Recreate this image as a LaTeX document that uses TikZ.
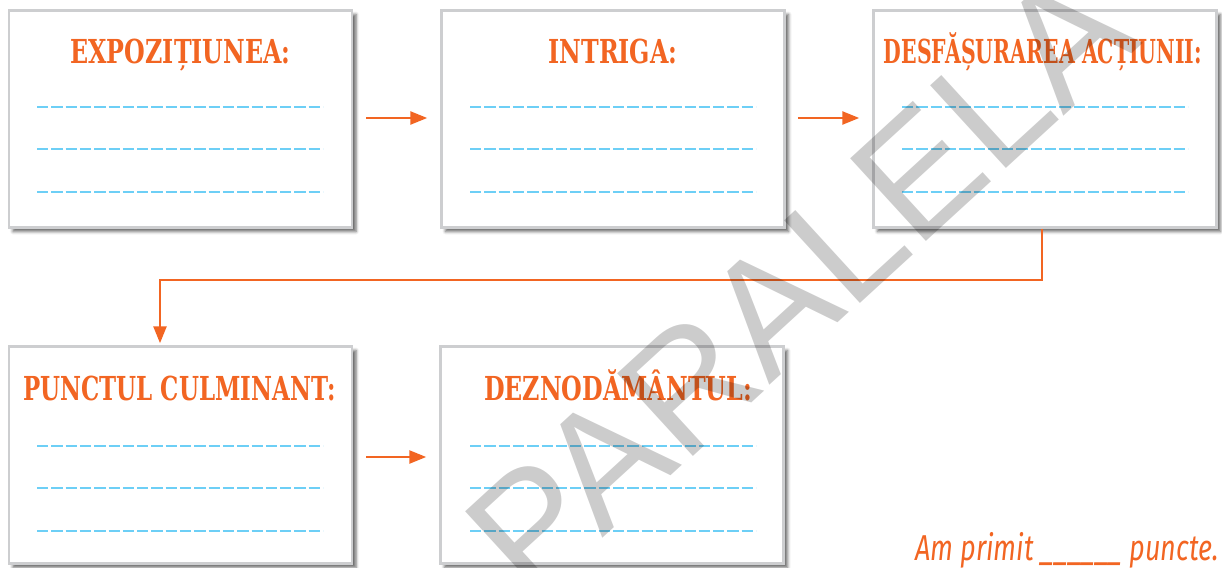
\documentclass[tikz,border=0pt]{standalone}
\usepackage{fontspec}
\usetikzlibrary{arrows.meta,shadows.blur,calc}
\newfontfamily\headfont[FakeStretch=0.72]{DejaVu Serif}
\newfontfamily\notefont[FakeStretch=0.75]{Fira Sans}
\newfontfamily\wmfont{Liberation Sans}
\definecolor{orng}{RGB}{242,101,34}
\definecolor{lineblue}{RGB}{109,207,246}
\definecolor{cardgray}{RGB}{205,206,208}
\begin{document}
\begin{tikzpicture}[x=1pt,y=-1pt,
  card/.style={draw=cardgray, line width=2.5pt, fill=white, minimum width=343pt,
    minimum height=217pt, inner sep=0pt,
    blur shadow={shadow xshift=4pt, shadow yshift=-4pt, shadow blur radius=3pt, shadow opacity=60}},
  head/.style={anchor=base, inner sep=0pt, text=orng, font=\headfont\bfseries\fontsize{33}{36}\selectfont},
  wline/.style={draw=lineblue, line width=2.5pt, dash pattern=on 11.3pt off 3pt},
  conn/.style={draw=orng, line width=2.5pt},
  arr/.style={conn, -{Triangle[length=17pt,width=13pt]}},
  note/.style={anchor=base west, inner sep=0pt, text=orng, font=\notefont\itshape\fontsize{36}{40}\selectfont},
  wm/.style={rotate=42.5, inner sep=0pt, text=black, text opacity=0.2, font=\wmfont\fontsize{163}{170}\selectfont},
]
\useasboundingbox (0,0) rectangle (1222,567);
% cards
\node[card] (b1) at (180.5,119) {};
\node[card] (b2) at (613,119) {};
\node[card] (b3) at (1045,119) {};
\node[card] (b4) at (180.5,455) {};
\node[card] (b5) at (612,455) {};
% headings
\node[head] (h1) at ($(b1.north)+(0,54)$) {EXPOZIȚIUNEA:};
\node[head] (h2) at ($(b2.north)+(0,54)$) {INTRIGA:};
\node[head] (h3) at ($(b3.north)+(-2,54)$) {\scalebox{0.86}[1]{DESFĂȘURAREA ACȚIUNII:}};
\node[head] (h4) at ($(b4.north)+(-1,55)$) {\scalebox{0.965}[1]{PUNCTUL CULMINANT:}};
\node[head] (h5) at ($(b5.north)+(6,55)$) {DEZNODĂMÂNTUL:};
% writing lines
\foreach \xx in {37,470,902}{
  \foreach \yy in {107,149,192}{
    \draw[wline] (\xx,\yy) -- ++(286,0);
  }
}
\foreach \xx in {37,470}{
  \foreach \yy in {446,488,531}{
    \draw[wline] (\xx,\yy) -- ++(286,0);
  }
}
% connectors
\draw[arr] ([xshift=13pt,yshift=1pt]b1.east) -- ([xshift=-13pt,yshift=1pt]b2.west);
\draw[arr] ([xshift=12pt,yshift=1pt]b2.east) -- ([xshift=-13pt,yshift=1pt]b3.west);
\draw[arr] ([xshift=13pt,yshift=-2pt]b4.east) -- ([xshift=-13pt,yshift=-2pt]b5.west);
\coordinate (bend) at (160,280);
\draw[arr, shorten >=2pt] ([xshift=-3pt]b3.south) |- (bend) -- (bend |- b4.north);
% note
\node[note] (score) at (915,560) {Am primit \_\_\_\_\_\_ puncte.};
% watermark
\node[wm] (wmark) at (884,206) {PARALELA 45};
\end{tikzpicture}
\end{document}
